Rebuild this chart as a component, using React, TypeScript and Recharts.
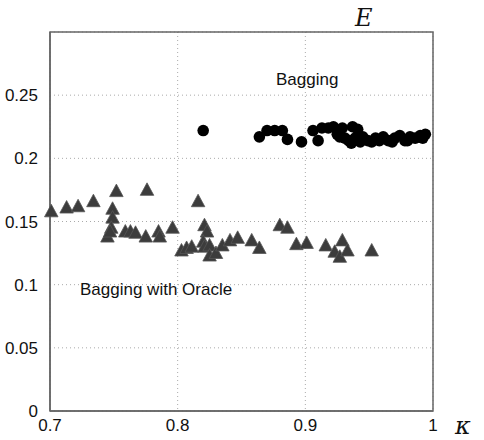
import { ScatterChart, Scatter, XAxis, YAxis, CartesianGrid, ReferenceArea } from "recharts";

// Bagging (circles)
const baggingKappa = [
  0.82, 0.864, 0.87, 0.876, 0.882, 0.886, 0.897, 0.906, 0.91, 0.913, 0.918, 0.922, 0.925, 0.929, 0.931,
  0.937, 0.941, 0.927, 0.934, 0.939, 0.945, 0.949, 0.955, 0.961, 0.965, 0.97, 0.974, 0.978, 0.982, 0.986,
  0.99, 0.994, 0.936, 0.943, 0.952, 0.958, 0.968, 0.98, 0.992,
];
const baggingError = [
  0.222, 0.217, 0.222, 0.222, 0.222, 0.215, 0.213, 0.222, 0.214, 0.224, 0.224, 0.225, 0.219, 0.224, 0.216,
  0.225, 0.223, 0.217, 0.214, 0.216, 0.217, 0.214, 0.216, 0.217, 0.214, 0.216, 0.218, 0.214, 0.217, 0.216,
  0.218, 0.219, 0.212, 0.213, 0.213, 0.214, 0.213, 0.214, 0.216,
];

// Bagging with Oracle (triangles)
const oracleKappa = [
  0.701, 0.713, 0.722, 0.734, 0.752, 0.749, 0.749, 0.748, 0.745, 0.747, 0.759, 0.763, 0.767, 0.775, 0.776,
  0.785, 0.786, 0.796, 0.816, 0.803, 0.807, 0.811, 0.821, 0.823, 0.82, 0.821, 0.825, 0.825, 0.83, 0.835,
  0.841, 0.847, 0.858, 0.864, 0.88, 0.886, 0.893, 0.901, 0.916, 0.923, 0.927, 0.929, 0.933, 0.952,
];
const oracleError = [
  0.157, 0.16, 0.161, 0.165, 0.173, 0.159, 0.152, 0.144, 0.137, 0.141, 0.141, 0.141, 0.14, 0.137, 0.174,
  0.141, 0.137, 0.144, 0.165, 0.126, 0.128, 0.129, 0.146, 0.141, 0.133, 0.129, 0.13, 0.122, 0.124, 0.13,
  0.134, 0.136, 0.134, 0.128, 0.146, 0.144, 0.131, 0.132, 0.13, 0.125, 0.121, 0.134, 0.126, 0.126,
];

const xTicks = [0.7, 0.8, 0.9, 1];
const yTicks = [0, 0.05, 0.1, 0.15, 0.2, 0.25];

const bagging = baggingKappa.map((k, i) => ({ k, e: baggingError[i] }));
const oracle = oracleKappa.map((k, i) => ({ k, e: oracleError[i] }));

const font = "'Liberation Sans', Arial, sans-serif";

const Dot = (props: any) => <circle cx={props.cx} cy={props.cy} r={5.8} fill="#000" />;

const Tri = (props: any) => {
  const { cx, cy } = props;
  const h = 12.5;
  const w = 13.5;
  const pts = `${cx},${cy - (h * 2) / 3} ${cx - w / 2},${cy + h / 3} ${cx + w / 2},${cy + h / 3}`;
  return <polygon points={pts} fill="#3c3c3c" stroke="#555" strokeWidth={0.8} strokeLinejoin="round" />;
};

export default function App() {
  const tickStyle = { fill: "#111", fontSize: 17, fontFamily: font };
  return (
    <div style={{ position: "absolute", left: 0, top: 0, width: 484, height: 440, background: "#fff" }}>
      <ScatterChart width={484} height={440} margin={{ top: 32, right: 51, left: 10, bottom: 9 }}>
        <CartesianGrid stroke="#aaa" strokeDasharray="1 3" />
        <XAxis
          type="number"
          dataKey="k"
          domain={[0.7, 1]}
          ticks={xTicks}
          tickFormatter={(v: number) => String(v)}
          tick={tickStyle}
          tickLine={false}
          axisLine={{ stroke: "#666", strokeWidth: 1.5 }}
          height={20}
          interval={0}
        />
        <YAxis
          type="number"
          dataKey="e"
          domain={[0, 0.3]}
          ticks={yTicks}
          tickFormatter={(v: number) => String(v)}
          tick={tickStyle}
          tickLine={false}
          tickMargin={6}
          axisLine={{ stroke: "#666", strokeWidth: 1.5 }}
          width={40}
          interval={0}
        />
        <ReferenceArea x1={0.7} x2={1} y1={0} y2={0.3} fill="none" stroke="#666" strokeWidth={1.5} />
        <Scatter data={oracle} shape={Tri} isAnimationActive={false} />
        <Scatter data={bagging} shape={Dot} isAnimationActive={false} />
      </ScatterChart>
      <div style={{ position: "absolute", left: 276, top: 70, fontFamily: font, fontSize: 17, color: "#111" }}>Bagging</div>
      <div style={{ position: "absolute", left: 80, top: 280, fontFamily: font, fontSize: 17, color: "#111", whiteSpace: "nowrap" }}>
        Bagging with Oracle
      </div>
      <div style={{ position: "absolute", left: 355, top: 4, fontFamily: "'DejaVu Serif', serif", fontStyle: "italic", fontSize: 24, color: "#111" }}>E</div>
      <div style={{ position: "absolute", left: 455, top: 412, fontFamily: "'DejaVu Serif', serif", fontStyle: "italic", fontSize: 24, color: "#111" }}>κ</div>
    </div>
  );
}
